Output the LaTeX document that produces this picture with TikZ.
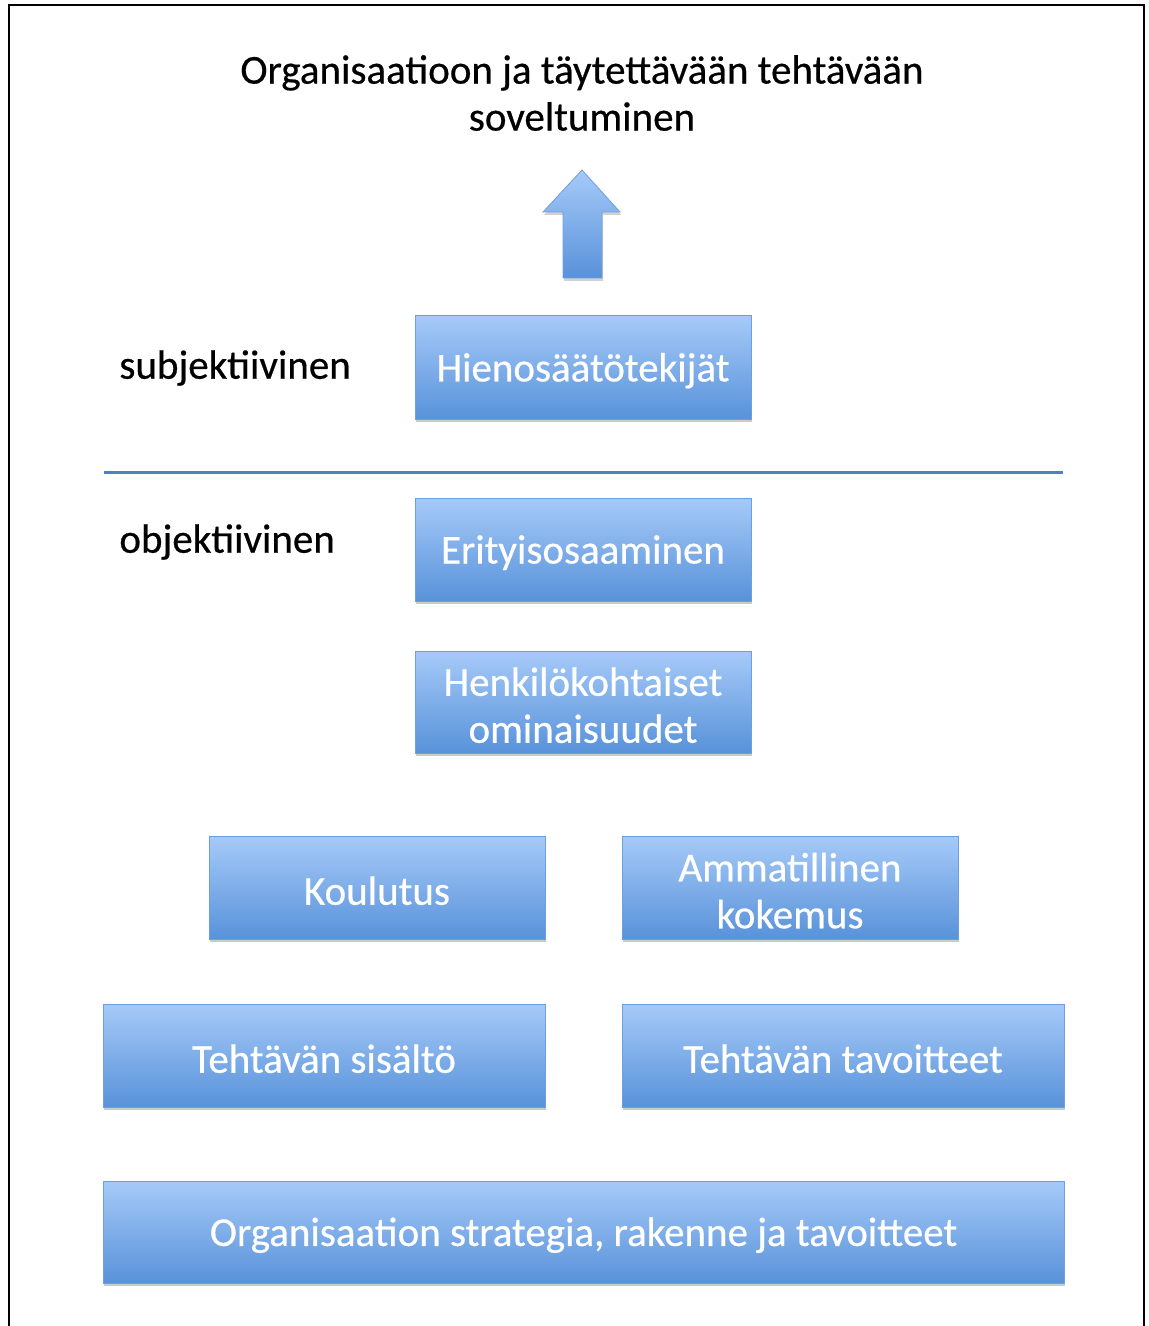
\documentclass[tikz,border=0pt]{standalone}
\usepackage{fontspec}
\setmainfont{Carlito}[FakeBold=0.5]
\usetikzlibrary{shadows}
\definecolor{boxtop}{HTML}{A6CAF8}
\definecolor{boxbot}{HTML}{5892DA}
\definecolor{boxedge}{HTML}{6C9FE0}
\definecolor{rule}{HTML}{4F81BD}
\tikzset{
  stepbox/.style={rectangle, draw=boxedge, line width=0.5pt,
    top color=boxtop, bottom color=boxbot,
    drop shadow={shadow xshift=0.6pt, shadow yshift=-1.6pt, opacity=0.35, fill=black!60},
    inner sep=0pt},
  boxtext/.style={text=white, align=center, inner sep=0pt,
    font=\fontsize{20.5}{23.5}\selectfont},
  sidelabel/.style={anchor=west, font=\fontsize{20.5}{23.5}\selectfont, inner sep=0pt},
}
% a shaded box with its centred white caption
\newcommand\putbox[6]{%
  \node[stepbox, minimum width=#4, minimum height=#5] (#1) at (#2,#3) {};
  \node[boxtext] (#1-text) at ([yshift=-1.6pt]#1.center) {#6};
}
\begin{document}
\begin{tikzpicture}[x=0.5pt, y=-0.5pt]
  \useasboundingbox (0,0) rectangle (1148,1326);
  % frame
  \draw[line width=1.2pt, black] (9,1326) -- (9,5) -- (1144,5) -- (1144,1326);

  % heading
  \node[align=center, font=\fontsize{20.5}{23.5}\selectfont] (title) at (582,93)
    {Organisaatioon ja täytettävään tehtävään\\soveltuminen};

  % upward arrow
  \shade[top color=boxtop, bottom color=boxbot, draw=boxedge, line width=0.4pt,
         drop shadow={shadow xshift=0.6pt, shadow yshift=-1.4pt, opacity=0.3, fill=black!60}]
    (582,170) -- (620,212) -- (602,212) -- (602,278) -- (563,278) -- (563,212) -- (543,212) -- cycle;

  % side labels
  \node[sidelabel] (subj) at (119,368) {subjektiivinen};
  \node[sidelabel] (obj) at (119,542) {objektiivinen};

  % dividing rule
  \coordinate (ruleL) at (104,472);
  \coordinate (ruleR) at (1063,472);
  \draw[rule, line width=1.5pt] (ruleL) -- (ruleR);

  % boxes
  \putbox{hieno}{583}{367.5}{168pt}{51.5pt}{Hienosäätötekijät}
  \putbox{erit}{583}{549.5}{168pt}{51.5pt}{Erityisosaaminen}
  \putbox{henk}{583}{702}{168pt}{51pt}{Henkilökohtaiset\\ominaisuudet}
  \putbox{koul}{377}{887.5}{168pt}{51.5pt}{Koulutus}
  \putbox{amm}{790}{887.5}{168pt}{51.5pt}{Ammatillinen\\kokemus}
  \putbox{sis}{324}{1055.5}{221pt}{51.5pt}{Tehtävän sisältö}
  \putbox{tav}{843}{1055.5}{221pt}{51.5pt}{Tehtävän tavoitteet}
  \putbox{org}{583.5}{1232}{480.5pt}{51pt}{Organisaation strategia, rakenne ja tavoitteet}
\end{tikzpicture}
\end{document}
